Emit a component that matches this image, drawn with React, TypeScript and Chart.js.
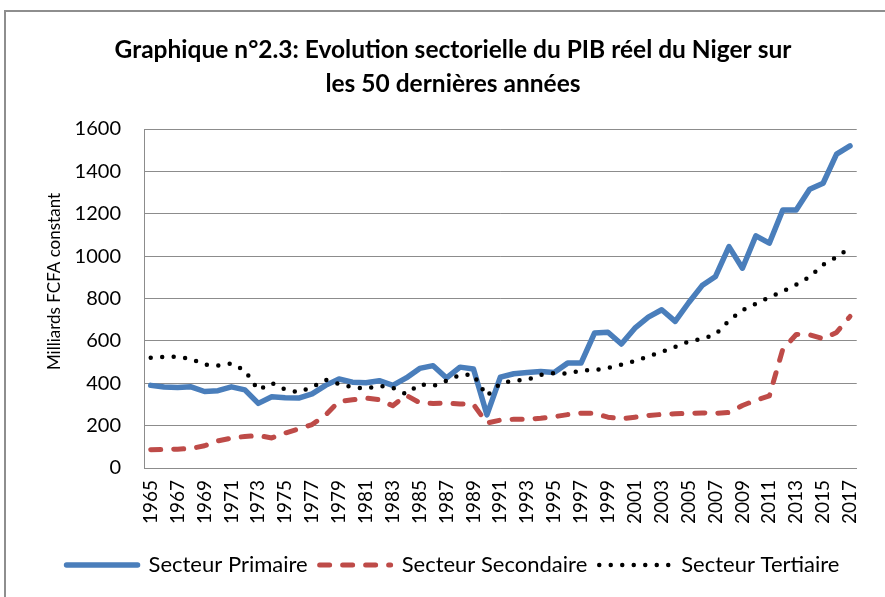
import React, { useEffect, useRef } from "react";
import { Chart, registerables } from "chart.js";

Chart.register(...registerables);

// ---------- DATA ----------
const years = [
  "1965", "1966", "1967", "1968", "1969", "1970", "1971", "1972", "1973", "1974",
  "1975", "1976", "1977", "1978", "1979", "1980", "1981", "1982", "1983", "1984",
  "1985", "1986", "1987", "1988", "1989", "1990", "1991", "1992", "1993", "1994",
  "1995", "1996", "1997", "1998", "1999", "2000", "2001", "2002", "2003", "2004",
  "2005", "2006", "2007", "2008", "2009", "2010", "2011", "2012", "2013", "2014",
  "2015", "2016", "2017",
];

const secteurPrimaire = [
  390, 382, 380, 383, 361, 365, 383, 369, 305, 336,
  332, 330, 350, 390, 420, 405, 402, 412, 390, 425,
  470, 483, 425, 476, 467, 251, 429, 445, 451, 455,
  451, 495, 495, 637, 641, 585, 660, 712, 747, 692,
  780, 861, 904, 1045, 943, 1096, 1061, 1218, 1218, 1316,
  1344, 1481, 1520,
];

const secteurSecondaire = [
  86, 87, 89, 92, 105, 128, 141, 149, 153, 142,
  165, 185, 205, 250, 314, 322, 330, 322, 294, 343,
  308, 305, 307, 302, 300, 212, 226, 230, 230, 235,
  242, 252, 258, 258, 240, 232, 240, 248, 253, 256,
  258, 260, 258, 262, 295, 320, 340, 560, 630, 629,
  610, 640, 715,
];

const secteurTertiaire = [
  520, 525, 525, 515, 488, 483, 493, 460, 368, 401,
  370, 357, 382, 416, 397, 381, 375, 388, 378, 349,
  395, 387, 412, 440, 440, 340, 400, 413, 416, 440,
  448, 445, 460, 462, 472, 488, 505, 527, 548, 572,
  597, 610, 630, 695, 745, 775, 805, 834, 865, 902,
  960, 995, 1041,
];

const seriesNames = ["Secteur Primaire", "Secteur Secondaire", "Secteur Tertiaire"];
const chartTitle = [
  "Graphique n°2.3: Evolution sectorielle du PIB réel du Niger sur",
  "les 50 dernières années",
];
const yAxisTitle = "Milliards FCFA constant";
const yMin = 0;
const yMax = 1600;
const yStep = 200;

// ---------- STYLE ----------
const FONT = "Lato, 'Noto Sans', sans-serif";
const GRID = "#8c8c8c";

const yTitlePlugin = {
  id: "yTitleCustom",
  afterDraw(chart: any) {
    const { ctx, chartArea } = chart;
    const yScale = chart.scales.y;
    ctx.save();
    ctx.font = `17px ${FONT}`;
    ctx.fillStyle = "#000";
    ctx.textAlign = "center";
    ctx.textBaseline = "middle";
    ctx.translate(yScale.left + 13, (chartArea.top + chartArea.bottom) / 2 - 17);
    ctx.rotate(-Math.PI / 2);
    ctx.fillText(yAxisTitle, 0, 0);
    ctx.restore();
  },
};

export default function App() {
  const canvasRef = useRef<HTMLCanvasElement | null>(null);

  useEffect(() => {
    document.body.style.margin = "0";
    document.documentElement.style.overflow = "hidden";
    const canvas = canvasRef.current;
    if (!canvas) return;

    const chart = new Chart(canvas, {
      type: "line",
      data: {
        labels: years,
        datasets: [
          {
            label: seriesNames[0],
            data: secteurPrimaire,
            borderColor: "#4a7ebb",
            backgroundColor: "#4a7ebb",
            borderWidth: 5.5,
            borderCapStyle: "round",
            borderJoinStyle: "round",
            pointRadius: 0,
            tension: 0,
            order: 3,
          },
          {
            label: seriesNames[1],
            data: secteurSecondaire,
            borderColor: "#be4b48",
            backgroundColor: "#be4b48",
            borderWidth: 5,
            borderDash: [10, 13],
            borderCapStyle: "round",
            borderJoinStyle: "round",
            pointRadius: 0,
            tension: 0,
            order: 2,
          },
          {
            label: seriesNames[2],
            data: secteurTertiaire,
            borderColor: "#000000",
            backgroundColor: "#000000",
            borderWidth: 4.5,
            borderDash: [0, 11.5],
            borderCapStyle: "round",
            borderJoinStyle: "round",
            pointRadius: 0,
            tension: 0,
            order: 1,
          },
        ],
      },
      options: {
        animation: false,
        responsive: false,
        maintainAspectRatio: false,
        devicePixelRatio: 1,
        layout: { padding: { left: 42, right: 21, top: 0, bottom: 11 } },
        font: { family: FONT },
        plugins: {
          title: {
            display: true,
            text: chartTitle,
            color: "#000",
            font: { family: FONT, size: 24.5, weight: "bold", lineHeight: 34 / 24.5 },
            padding: { top: 33, bottom: 28 },
          },
          legend: {
            position: "bottom",
            labels: {
              usePointStyle: true,
              pointStyle: "line",
              pointStyleWidth: 71,
              padding: 12,
              color: "#000",
              font: { family: FONT, size: 22 },
              sort: (a: any, b: any) => a.datasetIndex - b.datasetIndex,
              generateLabels: (ch: any) => {
                const items = Chart.defaults.plugins.legend.labels.generateLabels(ch);
                return items.map((it: any) => {
                  const ds: any = ch.data.datasets[it.datasetIndex];
                  return {
                    ...it,
                    lineWidth: ds.borderWidth,
                    lineDash: ds.borderDash || [],
                    lineCap: ds.borderCapStyle,
                    strokeStyle: ds.borderColor,
                    pointStyle: "line",
                  };
                });
              },
            },
          },
          tooltip: { enabled: false },
        },
        scales: {
          x: {
            offset: true,
            grid: { display: false, drawTicks: false },
            border: { display: true, color: GRID, width: 1 },
            ticks: {
              autoSkip: false,
              minRotation: 90,
              maxRotation: 90,
              padding: 12,
              color: "#000",
              font: { family: FONT, size: 19 },
              callback: (_v: any, i: number) => (i % 2 === 0 ? years[i] : ""),
            },
            afterFit: (s: any) => {
              s.height = 74;
            },
          },
          y: {
            min: yMin,
            max: yMax,
            ticks: {
              stepSize: yStep,
              padding: 23,
              color: "#000",
              font: { family: FONT, size: 20 },
              callback: (v: any) => String(v),
            },
            grid: { color: GRID, lineWidth: 1, drawTicks: false },
            border: { display: true, color: GRID, width: 1 },
            title: { display: false },
            afterFit: (s: any) => {
              s.width = 102;
            },
          },
        },
      } as any,
      plugins: [yTitlePlugin],
    });

    return () => chart.destroy();
  }, []);

  return (
    <div style={{ position: "relative", width: 885, height: 597, overflow: "hidden", background: "#fff" }}>
      <div
        style={{
          position: "absolute",
          left: 4,
          top: 10,
          right: -20,
          bottom: -20,
          borderLeft: "2px solid #8e8e8e",
          borderTop: "2px solid #8e8e8e",
        }}
      />
      <canvas ref={canvasRef} width={885} height={597} style={{ position: "absolute", left: 0, top: 0 }} />
    </div>
  );
}
